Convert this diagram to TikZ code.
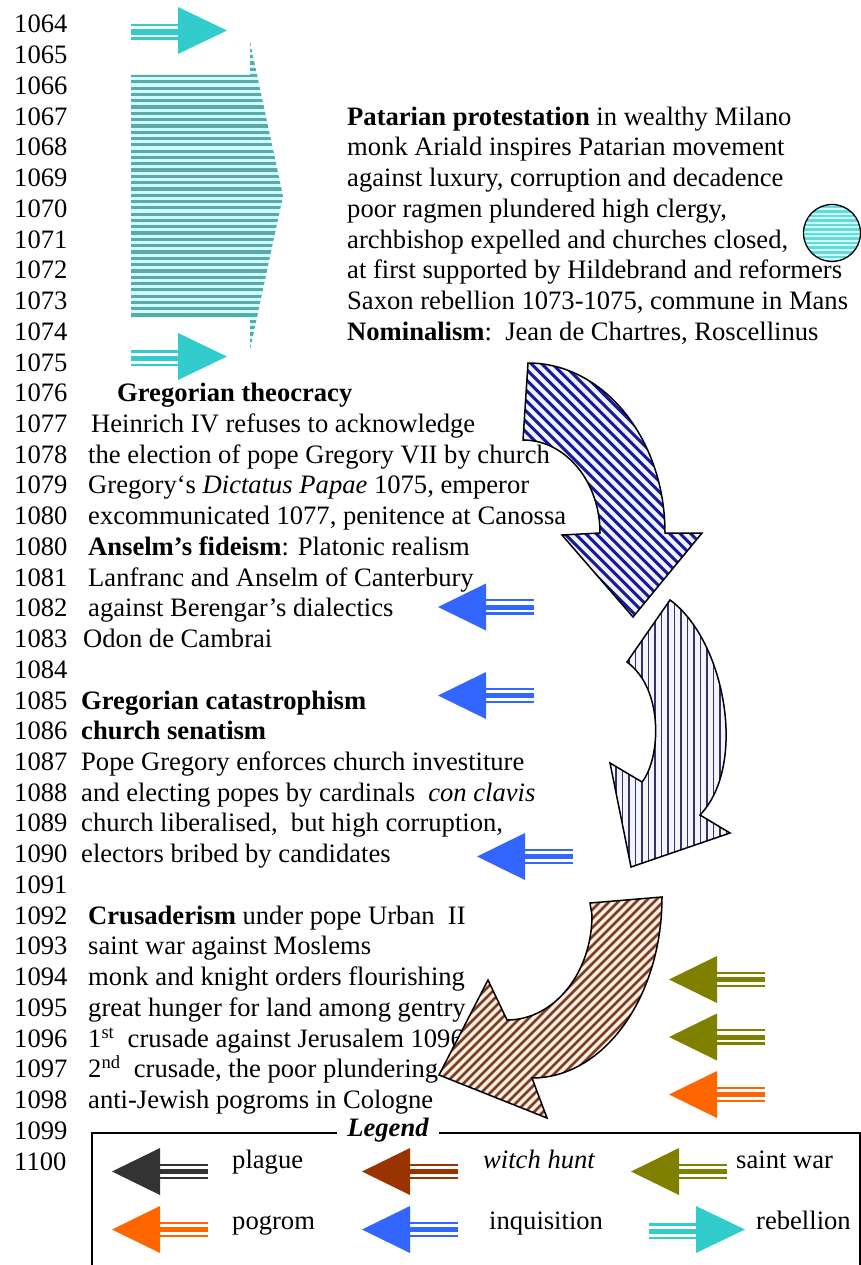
\documentclass[tikz,border=0pt]{standalone}
\usepackage{fontspec}
\setmainfont{Liberation Serif}
\definecolor{rebelcyan}{HTML}{33CCCC}
\definecolor{inqblue}{HTML}{3366FF}
\definecolor{warolive}{HTML}{808000}
\definecolor{pogorange}{HTML}{FF6600}
\definecolor{plaguegrey}{HTML}{333333}
\definecolor{witchbrown}{HTML}{993300}
\definecolor{tealdark}{HTML}{5FA8A8}
\definecolor{cyanlight}{HTML}{CCFFFF}
\definecolor{navystripe}{HTML}{1A1A99}
\definecolor{bluelight}{HTML}{EEF3FF}
\definecolor{slatestripe}{HTML}{333366}
\definecolor{lavlight}{HTML}{F4F4FF}
\definecolor{brownstripe}{HTML}{7A3F1F}
\definecolor{creamlight}{HTML}{FFEDE6}
% left-pointing triple-shaft arrow: tip x, tip y, colour
\newcommand\arrowL[3]{%
  \fill[#3] (#1,#2) -- (#1+48,#2-23.5) -- (#1+48,#2+23.5) -- cycle;
  \fill[#3] (#1+47,#2-8) rectangle (#1+96,#2-5.7);
  \fill[#3] (#1+47,#2-2.5) rectangle (#1+96,#2+2.6);
  \fill[#3] (#1+47,#2+5.2) rectangle (#1+96,#2+7.5);
}
% right-pointing triple-shaft arrow: tip x, tip y, colour
\newcommand\arrowR[3]{%
  \fill[#3] (#1,#2) -- (#1-49,#2-23.5) -- (#1-49,#2+23.5) -- cycle;
  \fill[#3] (#1-96,#2-6.5) rectangle (#1-48,#2-4);
  \fill[#3] (#1-96,#2-1) rectangle (#1-48,#2+4.5);
  \fill[#3] (#1-96,#2+7) rectangle (#1-48,#2+9.5);
}
% one text row: x, row index, name, content
\newcommand\tline[4]{\node[txt] (#3) at (#1,{33+30.73*#2}) {#4};}
\begin{document}
\begin{tikzpicture}[x=1pt,y=-1pt,
  txt/.style={anchor=base west, inner sep=0pt, font=\fontsize{26.6}{32}\selectfont},
  outline/.style={draw=black, line width=1.5pt, line join=miter}]
\useasboundingbox (0,0) rectangle (861,1265);
\clip (0,0) rectangle (861,1265);

% year column
\foreach \yr [count=\i from 0] in {1064,1065,1066,1067,1068,1069,1070,1071,1072,1073,1074,1075,1076,1077,1078,1079,1080}
  \node[txt] (yr\i) at (14,{33+30.73*\i}) {\yr};
\node[txt] (yr17) at (14,{33+30.73*17}) {1080};
\foreach \yr [count=\i from 18] in {1081,1082,1083,1084,1085,1086,1087,1088,1089,1090,1091,1092,1093,1094,1095,1096,1097,1098,1099,1100}
  \node[txt] (yr\i) at (14,{33+30.73*\i}) {\yr};

% Patarian block
\tline{347}{3}{pat1}{\textbf{Patarian protestation} in wealthy Milano}
\tline{347}{4}{pat2}{monk Ariald inspires Patarian movement}
\tline{347}{5}{pat3}{against luxury, corruption and decadence}
\tline{347}{6}{pat4}{poor ragmen plundered high clergy,}
\tline{347}{7}{pat5}{archbishop expelled and churches closed,}
\tline{347}{8}{pat6}{at first supported by Hildebrand and reformers}
\tline{347}{9}{pat7}{Saxon rebellion 1073-1075, commune in Mans}
\tline{347}{10}{pat8}{\textbf{Nominalism}:\ \ Jean de Chartres, Roscellinus}

% Gregorian theocracy
\tline{117}{12}{gre1}{\textbf{Gregorian theocracy}}
\tline{91}{13}{gre2}{Heinrich IV refuses to acknowledge}
\tline{88}{14}{gre3}{the election of pope Gregory VII by church}
\tline{88}{15}{gre4}{Gregory‘s \textit{Dictatus Papae} 1075, emperor}
\tline{88}{16}{gre5}{excommunicated 1077, penitence at Canossa}
\tline{88}{17}{ans1}{\textbf{Anselm’s fideism}: Platonic realism}
\tline{88}{18}{ans2}{Lanfranc and Anselm of Canterbury}
\tline{88}{19}{ans3}{against Berengar’s dialectics}
\tline{83}{20}{ans4}{Odon de Cambrai}

% Gregorian catastrophism
\tline{81}{22}{cat1}{\textbf{Gregorian catastrophism}}
\tline{81}{23}{cat2}{\textbf{church senatism}}
\tline{81}{24}{cat3}{Pope Gregory enforces church investiture}
\tline{81}{25}{cat4}{and electing popes by cardinals\ \ \textit{con clavis}}
\tline{81}{26}{cat5}{church liberalised,\ \ but high corruption,}
\tline{81}{27}{cat6}{electors bribed by candidates}

% Crusaderism
\tline{88}{29}{cru1}{\textbf{Crusaderism} under pope Urban\ \ II}
\tline{88}{30}{cru2}{saint war against Moslems}
\tline{88}{31}{cru3}{monk and knight orders flourishing}
\tline{88}{32}{cru4}{great hunger for land among gentry}
\tline{88}{33}{cru5}{1\textsuperscript{st}\ \ crusade against Jerusalem 1096}
\tline{88}{34}{cru6}{2\textsuperscript{nd}\ \ crusade, the poor plundering}
\tline{88}{35}{cru7}{anti-Jewish pogroms in Cologne}

% large striped rebellion arrow
\begin{scope}
  \clip (131,75) -- (250,75) -- (250,42) -- (283,196) -- (250,350) -- (250,318) -- (131,318) -- cycle;
  \fill[cyanlight] (120,30) rectangle (300,360);
  \foreach \k in {0,...,50} \fill[tealdark] (120,{74+6.3*\k}) rectangle (300,{77.2+6.3*\k});
  \foreach \k in {1,...,6} \fill[tealdark] (120,{74-6.3*\k}) rectangle (300,{77.2-6.3*\k});
\end{scope}

% striped circle
\begin{scope}
  \clip (832,233) circle (28.5);
  \fill[rebelcyan!75] (800,200) rectangle (865,265);
  \foreach \k in {0,...,14} \fill[cyanlight] (800,{204+4.5*\k}) rectangle (865,{206+4.5*\k});
\end{scope}
\draw[line width=1.3pt] (832,233) circle (28.5);

% curved arrow: theocracy
\def\arrowone{(528,363) .. controls (603.7,363) and (665,439.1) .. (665,533) -- (702,533) -- (633,617) -- (562,535) -- (600,533) .. controls (600,481.6) and (565.5,440) .. (523,440) -- cycle}
\begin{scope}
  \clip \arrowone;
  \fill[bluelight] (500,350) rectangle (720,630);
  \foreach \k in {0,...,70} \draw[navystripe, line width=3pt] ({150+10.5*\k},350) -- ({450+10.5*\k},650);
\end{scope}
\draw[outline] \arrowone;

% curved arrow: catastrophism
\def\arrowtwo{(670,600) .. controls (725,640) and (748,765) .. (700,815) -- (730,833) -- (631,867) -- (610,763) -- (642,782) .. controls (660,760) and (665,690) .. (627,662) -- cycle}
\begin{scope}
  \clip \arrowtwo;
  \fill[lavlight] (600,590) rectangle (760,880);
  \foreach \k in {0,...,25} \draw[slatestripe, line width=1.8pt] ({603+6.5*\k},590) -- ({603+6.5*\k},880);
\end{scope}
\draw[outline] \arrowtwo;

% curved arrow: crusaderism
\def\arrowthree{(590,903) -- (662,897) .. controls (662,997) and (603.8,1078) .. (532,1078) -- (547,1118) -- (439,1075) -- (488,980) -- (507,1020) .. controls (554,1020) and (592,973) .. (592,915) -- cycle}
\begin{scope}
  \clip \arrowthree;
  \fill[creamlight] (430,890) rectangle (670,1125);
  \foreach \k in {0,...,80} \draw[brownstripe, line width=2.6pt] ({300+9*\k},1130) -- ({550+9*\k},880);
\end{scope}
\draw[outline] \arrowthree;

% rebellion arrows
\arrowR{227}{30.5}{rebelcyan}
\arrowR{227}{356.5}{rebelcyan}

% inquisition arrows
\arrowL{438}{607}{inqblue}
\arrowL{438}{695.5}{inqblue}
\arrowL{477}{856.5}{inqblue}

% saint war and pogrom arrows
\arrowL{669}{979.5}{warolive}
\arrowL{669}{1037}{warolive}
\arrowL{669}{1094.5}{pogorange}

% legend frame
\draw[line width=1.2pt] (92,1280) -- (92,1133) -- (860,1133) -- (860,1280);
\node[anchor=base, fill=white, inner xsep=10pt, inner ysep=3pt, font=\fontsize{26.6}{32}\selectfont\bfseries\itshape] (legtitle) at (388,1136) {Legend};

% legend entries
\arrowL{112}{1171.5}{plaguegrey}
\arrowL{362}{1171.5}{witchbrown}
\arrowL{631}{1171.5}{warolive}
\arrowL{112}{1229.5}{pogorange}
\arrowL{362}{1229.5}{inqblue}
\arrowR{745}{1229.5}{rebelcyan}
\node[txt] (lplague) at (232,1168) {plague};
\node[txt] (lwitch) at (483,1168) {\textit{witch hunt}};
\node[txt] (lwar) at (736,1168) {saint war};
\node[txt] (lpogrom) at (232,1229) {pogrom};
\node[txt] (linq) at (489,1229) {inquisition};
\node[txt] (lrebel) at (756,1229) {rebellion};
\end{tikzpicture}
\end{document}
